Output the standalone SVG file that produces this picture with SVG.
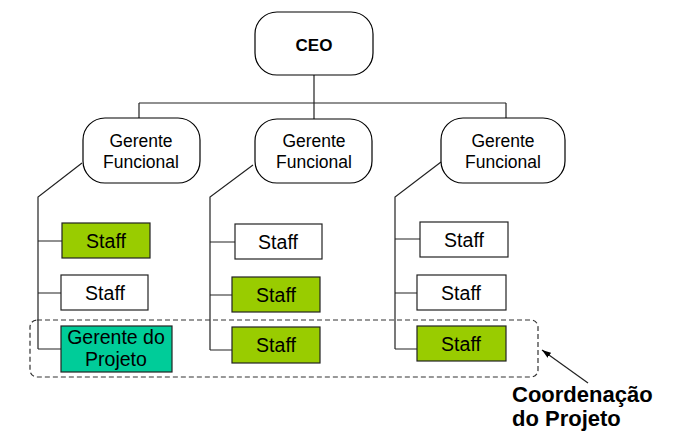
<svg xmlns="http://www.w3.org/2000/svg" width="681" height="431" viewBox="0 0 681 431">
<defs>
<style>
.rr{fill:#fff;stroke:#000;stroke-width:1.2}
.box{stroke:#222;stroke-width:1.2}
.w{fill:#fff}
.g{fill:#99cc00}
.t{fill:#00cc99}
.ln{fill:none;stroke:#222;stroke-width:1.2}
.tx{font-family:"Liberation Sans",Arial,sans-serif;fill:#000;text-anchor:middle}
.s{font-size:19.5px}
.gf{font-size:17.5px}
</style>
<marker id="ah" markerWidth="10" markerHeight="8" refX="9" refY="4" orient="auto" markerUnits="userSpaceOnUse">
<path d="M0,1 L9,4 L0,7 Z" fill="#000"/>
</marker>
</defs>
<rect width="681" height="431" fill="#fff"/>
<g id="connectors">
<path class="ln" d="M314,75 V103 M139,103 H506 M139,103 V118 M314,103 V119 M506,103 V118"/>
<path class="ln" d="M82,163 L38,197 V349 M38,241 H62 M38,293 H61 M38,349 H61"/>
<path class="ln" d="M253,165 L210,197 V350 M210,242 H235 M210,295 H232 M210,350 H232"/>
<path class="ln" d="M441,162 L395,197 V349 M395,239 H420 M395,293 H417 M395,349 H417"/>
<path class="ln" d="M588,383 L542,350" marker-end="url(#ah)"/>
</g>
<g id="ceo"><rect class="rr" x="255" y="12" width="118" height="63" rx="22"/><text class="tx" x="314" y="51" font-size="17" font-weight="bold">CEO</text></g>
<g id="gf1"><rect class="rr" x="83" y="118" width="117" height="65" rx="22"/><text class="tx gf" x="141" y="147">Gerente</text><text class="tx gf" x="141" y="168">Funcional</text></g>
<g id="gf2"><rect class="rr" x="255" y="119" width="117" height="64" rx="22"/><text class="tx gf" x="314" y="147">Gerente</text><text class="tx gf" x="314" y="168">Funcional</text></g>
<g id="gf3"><rect class="rr" x="441" y="118" width="124" height="65" rx="22"/><text class="tx gf" x="503" y="147">Gerente</text><text class="tx gf" x="503" y="168">Funcional</text></g>
<g id="s11"><rect class="box g" x="62" y="223" width="88" height="35"/><text class="tx s" x="106" y="248">Staff</text></g>
<g id="s12"><rect class="box w" x="61" y="275" width="87" height="35"/><text class="tx s" x="105" y="300">Staff</text></g>
<g id="gp"><rect class="box t" x="61" y="326" width="111" height="46"/><text class="tx s" x="116" y="344">Gerente do</text><text class="tx s" x="116" y="366">Projeto</text></g>
<g id="s21"><rect class="box w" x="235" y="224" width="87" height="35"/><text class="tx s" x="278" y="249">Staff</text></g>
<g id="s22"><rect class="box g" x="232" y="277" width="88" height="35"/><text class="tx s" x="276" y="302">Staff</text></g>
<g id="s23"><rect class="box g" x="232" y="327" width="88" height="36"/><text class="tx s" x="276" y="352">Staff</text></g>
<g id="s31"><rect class="box w" x="420" y="222" width="88" height="35"/><text class="tx s" x="464" y="247">Staff</text></g>
<g id="s32"><rect class="box w" x="417" y="275" width="89" height="35"/><text class="tx s" x="461" y="300">Staff</text></g>
<g id="s33"><rect class="box g" x="417" y="326" width="89" height="35"/><text class="tx s" x="461" y="351">Staff</text></g>
<g id="coord"><rect x="30" y="320" width="508" height="57" rx="7" fill="none" stroke="#333" stroke-width="1.2" stroke-dasharray="5,3"/>
<text x="512" y="402" font-family="'Liberation Sans',Arial,sans-serif" font-size="22" font-weight="bold">Coordenação</text>
<text x="512" y="426" font-family="'Liberation Sans',Arial,sans-serif" font-size="22" font-weight="bold">do Projeto</text></g>
</svg>
